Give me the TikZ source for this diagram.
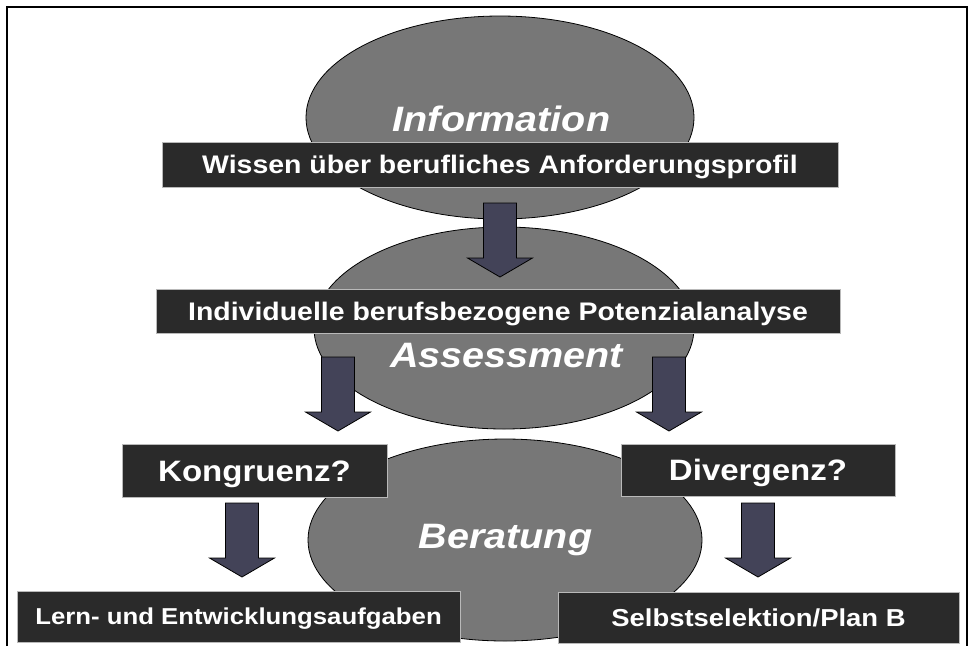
\documentclass[tikz,border=0pt]{standalone}
\usepackage{fontspec}
\setmainfont{Liberation Sans}[FakeStretch=1.12]
\usetikzlibrary{shapes.geometric}

\definecolor{ovalgray}{RGB}{119,119,119}
\definecolor{barblack}{RGB}{42,42,42}
\definecolor{arrowslate}{RGB}{67,67,88}

\tikzset{
  oval/.style={ellipse, draw=black, fill=ovalgray, line width=0.8pt, inner sep=0pt},
  ovaltext/.style={text=white, anchor=base, inner sep=0pt, font=\bfseries\itshape\fontsize{35.3}{40}\selectfont},
  bar/.style={rectangle, fill=barblack, draw=gray!55, line width=1pt, text=white, inner sep=0pt,
    text depth=0pt},
  pics/blockarrow/.style={code={
    \draw[fill=arrowslate, draw=black, line width=0.8pt] (-16.5,0) -- (16.5,0) -- (16.5,55) -- (32.5,55)
      -- (0,74) -- (-32.5,55) -- (-16.5,55) -- cycle;
  }}
}

\begin{document}
\begin{tikzpicture}[x=1pt, y=-1pt]
  \useasboundingbox (0,0) rectangle (973,646);
  % frame
  \draw[line width=2.5pt] (7,646) -- (7,7) -- (967,7) -- (967,646);

  % ovals
  \node[oval, minimum width=388pt, minimum height=203pt] (info) at (500,117.5) {};
  \node[oval, minimum width=380pt, minimum height=202pt] (assess) at (504,328) {};
  \node[oval, minimum width=394pt, minimum height=202pt] (berat) at (505,540) {};

  \node[ovaltext] (infotext) at (501.5,131) {Information};
  \node[ovaltext] (assesstext) at (506.5,367) {Assessment};
  \node[ovaltext] (berattext) at (505.5,548) {Beratung};

  % bars
  \node[bar, minimum width=676pt, minimum height=45pt, text height=18.2pt,
    font=\bfseries\fontsize{25.4}{30}\selectfont]
    (wissen) at (500,164.5) {Wissen über berufliches Anforderungsprofil};
  \node[bar, minimum width=684pt, minimum height=44pt, text height=18.2pt,
    font=\bfseries\fontsize{25.4}{30}\selectfont]
    (potenzial) at (498,311) {Individuelle berufsbezogene Potenzialanalyse};

  % arrows
  \pic (pfeilA) at (500,203) {blockarrow};
  \pic (pfeilB) at (338,357) {blockarrow};
  \pic (pfeilC) at (669,357) {blockarrow};
  \pic (pfeilD) at (242,503) {blockarrow};
  \pic (pfeilE) at (758,503) {blockarrow};

  \node[bar, minimum width=265pt, minimum height=53pt, text height=21.1pt,
    font=\bfseries\fontsize{29.5}{34}\selectfont]
    (kongruenz) at (254.5,470.5) {Kongruenz?};
  \node[bar, minimum width=274pt, minimum height=52pt, text height=21.1pt,
    font=\bfseries\fontsize{29.5}{34}\selectfont]
    (divergenz) at (758,470) {Divergenz?};

  \node[bar, minimum width=443pt, minimum height=51pt, text height=16.5pt,
    font=\bfseries\fontsize{23}{28}\selectfont]
    (lernen) at (238.5,616.5) {Lern- und Entwicklungsaufgaben};
  \node[bar, minimum width=401pt, minimum height=51pt, text height=17.5pt,
    font=\bfseries\fontsize{24.5}{29}\selectfont]
    (selbst) at (758.5,617.5) {Selbstselektion/Plan B};
\end{tikzpicture}
\end{document}
